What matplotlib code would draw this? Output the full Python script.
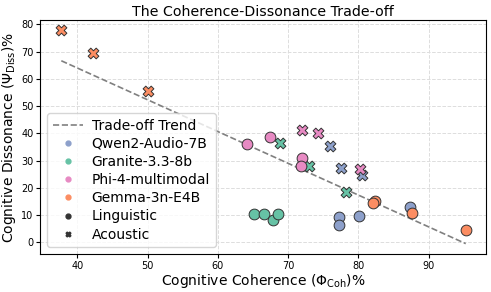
import numpy as np
import matplotlib.pyplot as plt
from matplotlib.lines import Line2D

models = ["Qwen2-Audio-7B", "Granite-3.3-8b", "Phi-4-multimodal", "Gemma-3n-E4B"]
colors = ["#8da0cb", "#66c2a5", "#e78ac3", "#fc8d62"]

# linguistic probes (coherence, dissonance)
ling_coh = [
    [77.2, 77.2, 80.1, 87.4],
    [65.1, 66.6, 67.8, 68.5],
    [64.2, 67.4, 72.0, 71.9],
    [82.4, 82.1, 87.7, 95.3],
]
ling_diss = [
    [9.2, 6.5, 9.6, 12.9],
    [10.5, 10.5, 8.1, 10.3],
    [36.0, 38.5, 30.9, 28.1],
    [15.2, 14.4, 10.8, 4.6],
]

# acoustic probes
ac_coh = [
    [75.9, 77.6, 80.5],
    [68.8, 73.0, 78.3],
    [72.0, 74.2, 80.3],
    [37.7, 42.2, 50.1],
]
ac_diss = [
    [35.4, 27.2, 24.9],
    [36.6, 28.2, 18.5],
    [41.3, 40.1, 26.9],
    [78.1, 69.6, 55.6],
]

fig, ax = plt.subplots(figsize=(4.91, 2.92), dpi=100)
ax.grid(True, linestyle="--", color="#dddddd", linewidth=0.7)
ax.set_axisbelow(True)

for k in range(len(models)):
    ax.scatter(ling_coh[k], ling_diss[k], s=60, marker="o", color=colors[k],
               edgecolor="#333333", linewidth=0.7, zorder=3)
    ax.scatter(ac_coh[k], ac_diss[k], s=60, marker="X", color=colors[k],
               edgecolor="#333333", linewidth=0.7, zorder=3)

# trend line fitted over all points
all_x = np.concatenate([np.ravel(ling_coh), np.ravel(ac_coh)])
all_y = np.concatenate([np.ravel(ling_diss), np.ravel(ac_diss)])
slope, inter = np.polyfit(all_x, all_y, 1)
xs = np.array([all_x.min(), all_x.max()])
ax.plot(xs, slope * xs + inter, linestyle="--", color="gray", linewidth=1.2, zorder=2)

ax.set_xlim(34.7, 98.2)
ax.set_ylim(-4.3, 81.7)
ax.set_xticks([40, 50, 60, 70, 80, 90])
ax.set_yticks(range(0, 81, 10))
ax.tick_params(labelsize=7, length=3, pad=2)

ax.set_title("The Coherence-Dissonance Trade-off", fontsize=10.2, pad=3)
ax.set_xlabel(r"Cognitive Coherence ($\Phi_{\mathrm{Coh}}$)%", fontsize=10, labelpad=1)
ax.set_ylabel(r"Cognitive Dissonance ($\Psi_{\mathrm{Diss}}$)%", fontsize=10, labelpad=2)

handles = [Line2D([], [], linestyle="--", color="gray", linewidth=1.2)]
labels = ["Trade-off Trend"]
for k in range(len(models)):
    handles.append(Line2D([], [], marker="o", linestyle="", color=colors[k], markersize=3.5))
    labels.append(models[k])
handles.append(Line2D([], [], marker="o", linestyle="", color="#333333", markersize=3.5))
labels.append("Linguistic")
handles.append(Line2D([], [], marker="X", linestyle="", color="#333333", markersize=3.5))
labels.append("Acoustic")
ax.legend(handles, labels, loc="lower left", fontsize=10, handlelength=2.2,
          labelspacing=0.3, borderpad=0.4, handletextpad=0.6)

fig.subplots_adjust(left=0.082, right=0.99, bottom=0.13, top=0.932)
fig.savefig("out.png", dpi=100)
